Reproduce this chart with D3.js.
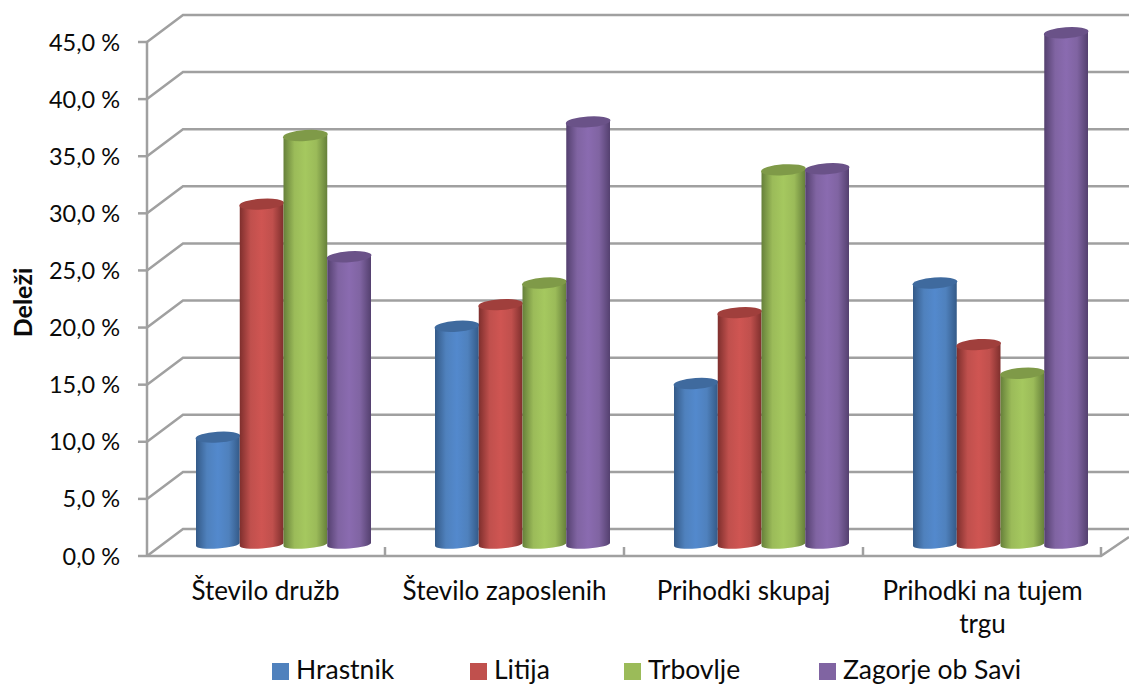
<!DOCTYPE html>
<html><head><meta charset="utf-8">
<script src="https://cdn.jsdelivr.net/npm/d3@7"></script>
<style>html,body{margin:0;padding:0;background:#fff}svg{display:block}text{font-family:Lato,"Open Sans",sans-serif;fill:#0a0a0a}</style>
</head><body><div id="c"></div>
<script>
const categories=["Število družb","Število zaposlenih","Prihodki skupaj","Prihodki na tujem trgu"];
const seriesNames=["Hrastnik","Litija","Trbovlje","Zagorje ob Savi"];
const hrastnik=[9.4,19.1,14.1,22.9];
const litija=[29.8,21.0,20.3,17.5];
const trbovlje=[35.8,22.9,32.8,15.0];
const zagorje=[25.2,37.0,32.9,44.8];
const seriesValues=[hrastnik,litija,trbovlje,zagorje];
const yTicks=[0,5,10,15,20,25,30,35,40,45];
const xLabelLines=[["Število družb"],["Število zaposlenih"],["Prihodki skupaj"],["Prihodki na tujem","trgu"]];
const colors=[
 {mid:"#5389cd",base:"#4F81BD",dark:"#345a88",top:"#3f6a9e"},
 {mid:"#cf5552",base:"#C0504D",dark:"#7f2f2d",top:"#a03f3c"},
 {mid:"#a5c85f",base:"#9BBB59",dark:"#66803a",top:"#7f9a48"},
 {mid:"#8a6bb0",base:"#8064A2",dark:"#54406f",top:"#6a5288"}];
const legendX=[272,470,624,819];

const W=1129,H=684;
const svg=d3.select("#c").append("svg").attr("width",W).attr("height",H);
const y=d3.scaleLinear().domain([0,45]).range([556,42]);
const x0=d3.scaleBand().domain(categories).range([146,1102]);
const x1=d3.scaleBand().domain(seriesNames).range([50,225]);
const wall={dx:36,dy:-27}, midDy=-11.5, grid="#a0a0a0";

const defs=svg.append("defs");
colors.forEach((c,i)=>{
  const g=defs.append("linearGradient").attr("id","g"+i).attr("x1",0).attr("x2",1).attr("y1",0).attr("y2",0);
  [[0,c.dark],[.25,c.base],[.5,c.mid],[.75,c.base],[1,c.dark]].forEach(s=>g.append("stop").attr("offset",s[0]).attr("stop-color",s[1]));
});

// walls
const gg=svg.append("g").attr("stroke",grid).attr("stroke-width",2.5).attr("fill","none");
yTicks.forEach(t=>{
  gg.append("path").attr("d",d3.line()([[147,y(t)],[147+wall.dx,y(t)+wall.dy],[W,y(t)+wall.dy]]));
  gg.append("line").attr("x1",138).attr("x2",147).attr("y1",y(t)).attr("y2",y(t));
});
gg.append("line").attr("x1",147).attr("x2",147).attr("y1",y(45)).attr("y2",y(0)+1);
gg.append("path").attr("d",d3.line()([[147,y(0)],[1101,y(0)],[W,y(0)-19]]));
categories.forEach((c,i)=>{ if(i>0) gg.append("line").attr("x1",x0(c)).attr("x2",x0(c)).attr("y1",y(0)).attr("y2",y(0)-9); });
gg.append("line").attr("x1",1101).attr("x2",1101).attr("y1",y(0)).attr("y2",y(0)-9);

// cylinders
const tilt=-4;
categories.forEach((c,ci)=>{
  seriesNames.forEach((s,si)=>{
    const v=seriesValues[si][ci];
    const xl=x0(c)+x1(s), w=x1.bandwidth(), rx=w/2, ry=5.5, cx=xl+rx;
    const yb=y(0)+midDy, yt=y(v)+midDy;
    const sl=Math.tan(tilt*Math.PI/180)*rx;
    const g=svg.append("g");
    g.append("path")
      .attr("d",`M${xl},${yt-sl} L${xl},${yb-sl} A${rx},${ry-1.5} ${tilt} 0 0 ${xl+w},${yb+sl} L${xl+w},${yt+sl} Z`)
      .attr("fill",`url(#g${si})`);
    g.append("ellipse").attr("cx",cx).attr("cy",yt).attr("rx",rx+.5).attr("ry",ry)
      .attr("transform",`rotate(${tilt} ${cx} ${yt})`).attr("fill",colors[si].top);
  });
});

// y labels
yTicks.forEach(t=>{
  svg.append("text").attr("x",120).attr("y",y(t)+8.5).attr("text-anchor","end").attr("font-size",23.5)
    .text(t.toFixed(1).replace(".",",")+" %");
});
svg.append("text").attr("transform","translate(31.5,302.5) rotate(-90)").attr("text-anchor","middle")
  .attr("font-size",25).attr("font-weight",700).text("Deleži");

// x labels
categories.forEach((c,i)=>{
  xLabelLines[i].forEach((l,j)=>{
    svg.append("text").attr("x",x0(c)+x0.bandwidth()/2).attr("y",600+j*33).attr("text-anchor","middle")
      .attr("font-size",26).text(l);
  });
});

// legend
seriesNames.forEach((s,i)=>{
  svg.append("rect").attr("x",legendX[i]).attr("y",663).attr("width",17).attr("height",17).attr("fill",colors[i].base);
  svg.append("text").attr("x",legendX[i]+24).attr("y",679).attr("font-size",26.5).text(s);
});
</script></body></html>
